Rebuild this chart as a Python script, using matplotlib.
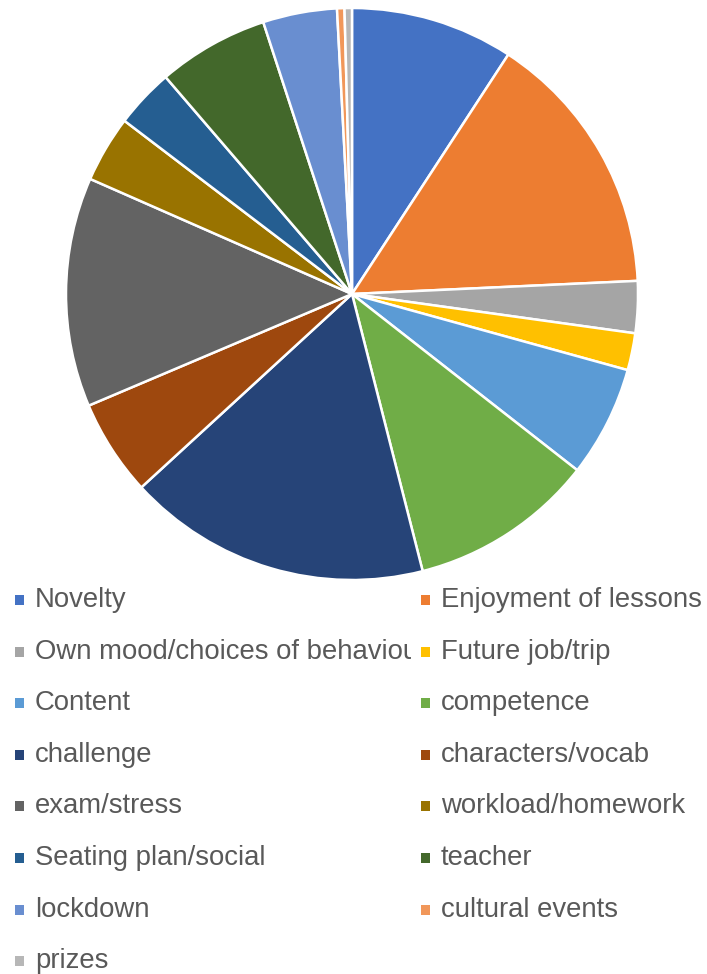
import matplotlib
matplotlib.use("Agg")
import matplotlib.pyplot as plt
from matplotlib.patches import Rectangle

# --------------------------------------------------------------------------
# Data (counts)
# --------------------------------------------------------------------------
labels = [
    "Novelty", "Enjoyment of lessons", "Own mood/choices of behaviour",
    "Future job/trip", "Content", "competence", "challenge",
    "characters/vocab", "exam/stress", "workload/homework",
    "Seating plan/social", "teacher", "lockdown", "cultural events", "prizes",
]
counts = [22, 36, 7, 5, 15, 25, 41, 13, 31, 9, 8, 15, 10, 1, 1]
colors = [
    "#4472C4", "#ED7D31", "#A5A5A5", "#FFC000", "#5B9BD5", "#70AD47",
    "#264478", "#9E480E", "#636363", "#997300", "#255E91", "#43682B",
    "#698ED0", "#F1975A", "#B7B7B7",
]

W, H = 707, 974
TEXT = "#595959"

plt.rcParams["font.family"] = ["Liberation Sans", "DejaVu Sans"]

fig = plt.figure(figsize=(W / 100, H / 100), dpi=100)

# --------------------------------------------------------------------------
# Pie
# --------------------------------------------------------------------------
cx, cy, r = 352, 294, 286
ax = fig.add_axes([(cx - r) / W, (H - cy - r) / H, 2 * r / W, 2 * r / H])
ax.pie(counts, colors=colors, startangle=90, counterclock=False, radius=1,
       wedgeprops=dict(edgecolor="white", linewidth=1.8))
ax.set_xlim(-1, 1)
ax.set_ylim(-1, 1)
ax.set_aspect("equal")
ax.axis("off")

# --------------------------------------------------------------------------
# Legend: two columns, filled row by row; column 1 text clipped at column 2
# --------------------------------------------------------------------------
split = 411
col_x = [0, split]
col_w = [split, W - split]
row0, row_step = 600, 51.6
cols = []
for x0, w in zip(col_x, col_w):
    lax = fig.add_axes([x0 / W, 0, w / W, 1])
    lax.set_xlim(x0, x0 + w)
    lax.set_ylim(H, 0)
    lax.axis("off")
    cols.append(lax)

for i, (lab, col) in enumerate(zip(labels, colors)):
    row, c = divmod(i, 2)
    lax = cols[c]
    y = row0 + row * row_step
    mx = 15 if c == 0 else 421
    lax.add_patch(Rectangle((mx, y - 5), 9, 10, facecolor=col,
                            edgecolor="none", clip_on=False))
    lax.text(mx + 20, y, lab, fontsize=19.8, color=TEXT, va="center",
             ha="left", clip_on=True)

fig.savefig("out.png", dpi=100, facecolor="white")
